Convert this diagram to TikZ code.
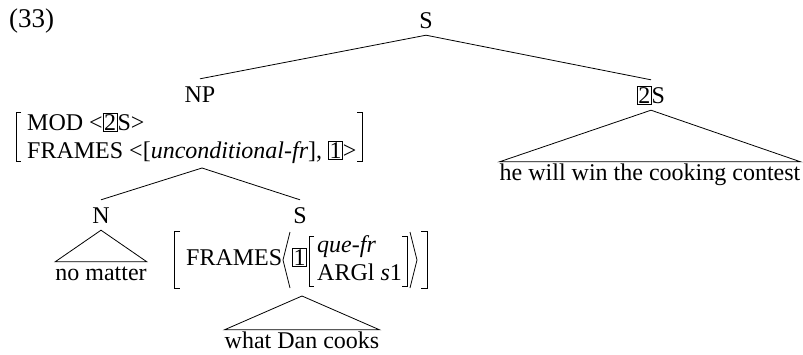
\documentclass[tikz,border=0pt]{standalone}
\usepackage{fontspec}
\setmainfont{Liberation Serif}
\usetikzlibrary{calc}
\newcommand{\tbox}[1]{{\setlength{\fboxsep}{0.8pt}\setlength{\fboxrule}{0.6pt}\fbox{#1}}}
\begin{document}
\begin{tikzpicture}[x=1pt,y=-1pt,font=\fontsize{24}{28}\selectfont,
  cat/.style={anchor=base,inner xsep=0pt,inner ysep=7pt,text height=16pt,text depth=0pt},
  leaf/.style={anchor=base,inner xsep=0pt,inner ysep=1pt,text height=17pt,text depth=5pt},
  txt/.style={anchor=base west,inner sep=0pt},
  edge/.style={line width=0.8pt},
  brk/.style={line width=0.8pt}]
\useasboundingbox (0,0) rectangle (803,354);
% example number
\node[txt,font=\fontsize{27}{30}\selectfont] (ex) at (9,27) {(33)};
% tree labels
\node[cat] (s0) at (426,28) {S};
\node[cat] (np) at (200,102) {NP};
\node[cat] (s2) at (651,103) {\tbox{2}S};
\node[leaf] (l2) at (650,180) {he will win the cooking contest};
% NP feature structure
\node[txt] (mod) at (27,130) {MOD <\tbox{2}S>};
\node[txt] (fr) at (27,158) {FRAMES <[\textit{unconditional-fr}], \tbox{1}>};
\draw[brk] (21,112) -- (16,112) -- (16,161) -- (21,161);
\draw[brk] (357,112) -- (362,112) -- (362,161) -- (357,161);
\coordinate (npb) at (202,168);
% daughters of NP
\node[cat] (n) at (101,223) {N};
\node[cat] (s1) at (300,223) {S};
\node[leaf] (l0) at (101,280) {no matter};
% S feature structure
\node[txt] (frm) at (186,265) {FRAMES};
\node[txt] (b1) at (292,265) {\tbox{1}};
\node[txt] (qf) at (317,252) {\textit{que-fr}};
\node[txt] (arg) at (317,280) {ARGl \textit{s}1};
\draw[brk] (180,231) -- (174,231) -- (174,288) -- (180,288);
\draw[brk] (290,232) -- (283,260) -- (290,288);
\draw[brk] (314,236) -- (309,236) -- (309,286) -- (314,286);
\draw[brk] (402,236) -- (407,236) -- (407,286) -- (402,286);
\draw[brk] (410,232) -- (417,260) -- (410,288);
\draw[brk] (421,231) -- (427,231) -- (427,288) -- (421,288);
\coordinate (sb) at (302,296);
\node[leaf] (l1) at (302,348) {what Dan cooks};
% edges
\draw[edge] (s0.south) -- (np.north);
\draw[edge] (s0.south) -- (s2.north);
\draw[edge] (npb) -- (n.north);
\draw[edge] (npb) -- (s1.north);
\draw[edge] (n.south) -- (l0.north west) -- (l0.north east) -- cycle;
\draw[edge] (s2.south) -- (l2.north west) -- (l2.north east) -- cycle;
\draw[edge] (sb) -- (l1.north west) -- (l1.north east) -- cycle;
\end{tikzpicture}
\end{document}
